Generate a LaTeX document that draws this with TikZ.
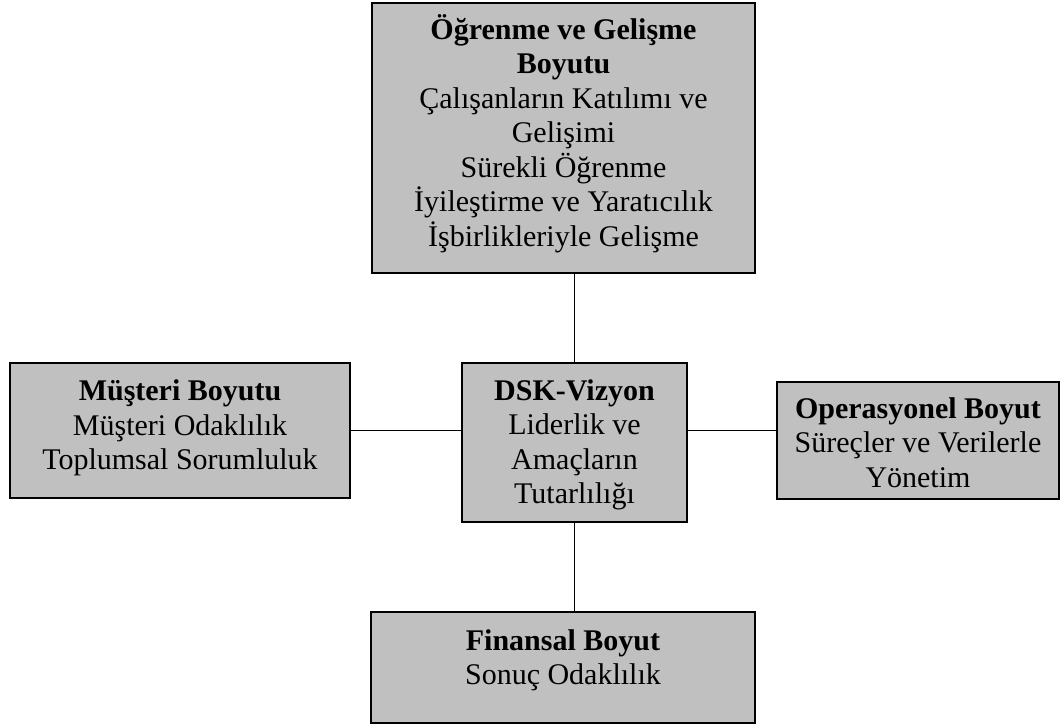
\documentclass[tikz,border=0pt]{standalone}
\usepackage{fontspec}
\setmainfont{Liberation Serif}
\usetikzlibrary{positioning}
\definecolor{boxgray}{RGB}{192,192,192}
\begin{document}
\begin{tikzpicture}[
    x=1pt, y=-1pt,
    box/.style={draw=black, line width=2pt, fill=boxgray, inner sep=0pt},
    boxtext/.style={align=center, inner sep=0pt, anchor=base, font=\fontsize{30}{34.5}\selectfont},
    link/.style={line width=1.6pt, draw=black}
]
\useasboundingbox (0,0) rectangle (1063,725);

% Boxes
\node[box, minimum width=383pt, minimum height=270pt] (ogr) at (563.5,138) {};
\node[box, minimum width=225pt, minimum height=159pt] (dsk) at (574.5,442.5) {};
\node[box, minimum width=340pt, minimum height=135pt] (mus) at (180,430.5) {};
\node[box, minimum width=282pt, minimum height=117pt] (ops) at (918,440.5) {};
\node[box, minimum width=384pt, minimum height=111pt] (fin) at (563,667.5) {};

% Texts (anchored at the baseline of the last line)
\node[boxtext] (ogrtext) at (563.5,246) {\textbf{Öğrenme ve Gelişme}\\\textbf{Boyutu}\\Çalışanların Katılımı ve\\Gelişimi\\Sürekli Öğrenme\\İyileştirme ve Yaratıcılık\\İşbirlikleriyle Gelişme};
\node[boxtext] (dsktext) at (574.5,503.5) {\textbf{DSK-Vizyon}\\Liderlik ve\\Amaçların\\Tutarlılığı};
\node[boxtext] (mustext) at (180,469.5) {\textbf{Müşteri Boyutu}\\Müşteri Odaklılık\\Toplumsal Sorumluluk};
\node[boxtext] (opstext) at (918,487) {\textbf{Operasyonel Boyut}\\Süreçler ve Verilerle\\Yönetim};
\node[boxtext] (fintext) at (563,684.5) {\textbf{Finansal Boyut}\\Sonuç Odaklılık};

% Connectors
\draw[link] (dsk.north) -- (dsk.north |- ogr.south);
\draw[link] (dsk.south) -- (dsk.south |- fin.north);
\draw[link] (mus.east) -- (mus.east -| dsk.west);
\draw[link] (mus.east -| dsk.east) -- (mus.east -| ops.west);

\end{tikzpicture}
\end{document}
